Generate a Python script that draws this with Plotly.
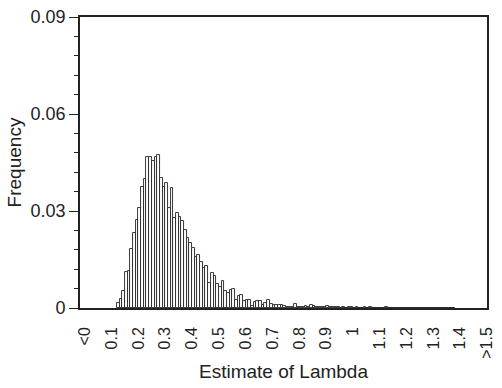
import numpy as np
import plotly.graph_objects as go

# Histogram of lambda estimates: bins of width 0.01 starting at 0.12
bin_start = 0.12
bin_width = 0.01
frequency = [
    0.0014, 0.0027, 0.0052, 0.0111, 0.0113, 0.0181, 0.0232, 0.0272, 0.0309, 0.0374,
    0.0398, 0.0467, 0.0467, 0.0456, 0.0467, 0.0472, 0.0401, 0.0374, 0.0388, 0.0309,
    0.0372, 0.0278, 0.0293, 0.0280, 0.0270, 0.0242, 0.0218, 0.0200, 0.0185, 0.0157,
    0.0164, 0.0142, 0.0125, 0.0129, 0.0078, 0.0109, 0.0100, 0.0075, 0.0066, 0.0085,
    0.0052, 0.0047, 0.0057, 0.0059, 0.0024, 0.0037, 0.0039, 0.0022, 0.0026, 0.0024,
    0.0005, 0.0018, 0.0022, 0.0021, 0.0008, 0.0016, 0.0026, 0.0013, 0.0008, 0.0010,
    0.0008, 0.0008, 0.0006, 0.0002, 0.0002, 0.0003, 0.0011, 0.0003, 0.0004, 0.0003,
    0.0005, 0.0003, 0.0009, 0.0005, 0.0002, 0.0003, 0.0003, 0.0002, 0.0005, 0.0004,
    0.0002, 0.0003, 0.0002, 0.0001, 0.0002, 0.0001, 0.0002, 0.0002, 0.0001, 0.0002,
    0.0000, 0.0001, 0.0002, 0.0000, 0.0004, 0.0001, 0.0000, 0.0000, 0.0000, 0.0000,
    0.0002, 0.0000, 0.0000, 0.0000, 0.0001, 0.0000, 0.0000, 0.0000, 0.0000, 0.0001,
    0.0000, 0.0000, 0.0001, 0.0000, 0.0000, 0.0000, 0.0001, 0.0000, 0.0000, 0.0000,
    0.0001, 0.0000, 0.0000, 0.0001, 0.0000, 0.0000,
]

x_tick_values = [0.0, 0.1, 0.2, 0.3, 0.4, 0.5, 0.6, 0.7, 0.8, 0.9, 1.0, 1.1, 1.2, 1.3, 1.4, 1.5]
x_tick_labels = ["<0", "0.1", "0.2", "0.3", "0.4", "0.5", "0.6", "0.7", "0.8", "0.9",
                 "1", "1.1", "1.2", "1.3", "1.4", ">1.5"]
y_tick_values = [0, 0.03, 0.06, 0.09]
y_tick_labels = ["0", "0.03", "0.06", "0.09"]

bin_centers = bin_start + bin_width * (np.arange(len(frequency)) + 0.5)

FONT = "Liberation Sans, Arial, sans-serif"
INK = "#222222"

fig = go.Figure(
    go.Bar(
        x=bin_centers,
        y=frequency,
        width=bin_width,
        marker=dict(color="white", line=dict(color=INK, width=0.9)),
        hoverinfo="x+y",
    )
)

fig.update_layout(
    width=502,
    height=388,
    margin=dict(l=80, r=7, t=15, b=80),
    paper_bgcolor="white",
    plot_bgcolor="white",
    showlegend=False,
    bargap=0,
    font=dict(family=FONT, size=16, color=INK),
)

fig.update_xaxes(
    range=[-0.018, 1.5],
    tickmode="array",
    tickvals=x_tick_values,
    ticktext=x_tick_labels,
    tickangle=-90,
    ticks="",
    ticklabelstandoff=11,
    showgrid=False,
    zeroline=False,
    showline=True,
    linecolor=INK,
    linewidth=1.6,
    mirror=True,
    tickfont=dict(size=16),
    title=dict(text="Estimate of Lambda", font=dict(size=19), standoff=7),
)

fig.update_yaxes(
    range=[0, 0.09],
    tickmode="array",
    tickvals=y_tick_values,
    ticktext=y_tick_labels,
    ticks="outside",
    ticklen=9,
    tickwidth=1.2,
    tickcolor=INK,
    minor=dict(dtick=0.006, ticks="outside", ticklen=4, tickwidth=1.2, tickcolor=INK, showgrid=False),
    showgrid=False,
    zeroline=False,
    showline=True,
    linecolor=INK,
    linewidth=1.6,
    mirror=True,
    tickfont=dict(size=18),
    title=dict(text="Frequency", font=dict(size=19), standoff=4),
)

fig.write_html("out.html")
